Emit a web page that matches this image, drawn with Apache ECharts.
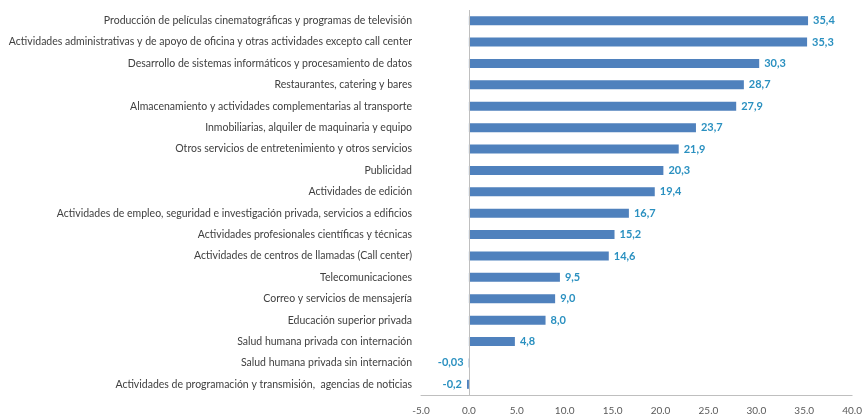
<!DOCTYPE html>
<html>
<head>
<meta charset="utf-8">
<script src="https://cdn.jsdelivr.net/npm/echarts@6/dist/echarts.min.js"></script>
<style>
html,body{margin:0;padding:0;background:#fff;}
#chart{width:865px;height:417px;}
</style>
</head>
<body>
<div id="chart"></div>
<script>
const categories = [
  "Producción de películas cinematográficas y programas de televisión",
  "Actividades administrativas y de apoyo de oficina y otras actividades excepto call center",
  "Desarrollo de sistemas informáticos y procesamiento de datos",
  "Restaurantes, catering y bares",
  "Almacenamiento y actividades complementarias al transporte",
  "Inmobiliarias, alquiler de maquinaria y equipo",
  "Otros servicios de entretenimiento y otros servicios",
  "Publicidad",
  "Actividades de edición",
  "Actividades de empleo, seguridad e investigación privada, servicios a edificios",
  "Actividades profesionales científicas y técnicas",
  "Actividades de centros de llamadas (Call center)",
  "Telecomunicaciones",
  "Correo y servicios de mensajería",
  "Educación superior privada",
  "Salud humana privada con internación",
  "Salud humana privada sin internación",
  "Actividades de programación y transmisión,  agencias de noticias"
];
const values = [35.4, 35.3, 30.3, 28.7, 27.9, 23.7, 21.9, 20.3, 19.4, 16.7, 15.2, 14.6, 9.5, 9.0, 8.0, 4.8, -0.03, -0.2];
const xTicks = [-5, 0, 5, 10, 15, 20, 25, 30, 35, 40];

function fmt(v){
  const s = (v !== 0 && Math.abs(v) < 0.1) ? v.toFixed(2) : v.toFixed(1);
  return s.replace('.', ',');
}

const chart = echarts.init(document.getElementById('chart'), null, {renderer:'canvas'});
chart.setOption({
  animation: false,
  grid: {left: 421, right: 12, top: 10, bottom: 22, containLabel: false},
  xAxis: {
    type: 'value',
    min: xTicks[0],
    max: xTicks[xTicks.length-1],
    interval: 5,
    splitLine: {show: false},
    axisLine: {show: true, onZero: false, lineStyle: {color: '#bfbfbf', width: 1}},
    axisTick: {show: false},
    axisLabel: {
      color: '#595959', fontSize: 10, fontFamily: 'Lato', margin: 11,
      formatter: v => v.toFixed(1)
    }
  },
  yAxis: {
    type: 'category',
    inverse: true,
    data: categories,
    axisLine: {show: false, onZero: false},
    axisTick: {show: false},
    axisLabel: {color: '#404040', fontSize: 10.5, fontFamily: 'Lato', margin: 9}
  },
  series: [{
    type: 'bar',
    barWidth: 9,
    itemStyle: {color: '#4F81BD'},
    data: values.map(v => ({
      value: v,
      label: {position: v < 0 ? 'left' : 'right'}
    })),
    label: {
      show: true,
      distance: 5,
      color: '#2A90C0',
      fontWeight: 'bold',
      fontSize: 11,
      fontFamily: 'Lato',
      formatter: p => fmt(p.value)
    },
    markLine: {
      silent: true,
      symbol: 'none',
      label: {show: false},
      lineStyle: {color: '#bfbfbf', width: 1, type: 'solid'},
      data: [{xAxis: 0}]
    }
  }]
});
</script>
</body>
</html>
